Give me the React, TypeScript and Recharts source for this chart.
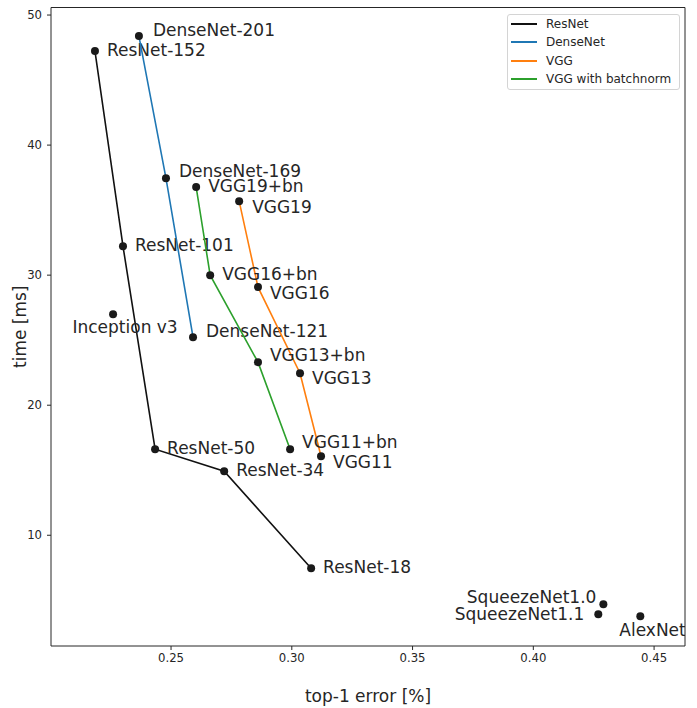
import { ScatterChart, Scatter, XAxis, YAxis, Legend, ReferenceArea } from "recharts";

// top-1 error vs. inference time
const resnetNames = ["ResNet-152", "ResNet-101", "ResNet-50", "ResNet-34", "ResNet-18"];
const resnetError = [0.2185, 0.2301, 0.2434, 0.272, 0.308];
const resnetTime = [47.23, 32.23, 16.62, 14.92, 7.46];

const densenetNames = ["DenseNet-201", "DenseNet-169", "DenseNet-121"];
const densenetError = [0.2367, 0.2479, 0.2591];
const densenetTime = [48.38, 37.46, 25.23];

const vggNames = ["VGG19", "VGG16", "VGG13", "VGG11"];
const vggError = [0.2782, 0.286, 0.3034, 0.3121];
const vggTime = [35.69, 29.08, 22.46, 16.08];

const vggBnNames = ["VGG19+bn", "VGG16+bn", "VGG13+bn", "VGG11+bn"];
const vggBnError = [0.2604, 0.2662, 0.286, 0.2993];
const vggBnTime = [36.77, 30.0, 23.31, 16.62];

const otherNames = ["Inception v3", "SqueezeNet1.0", "SqueezeNet1.1", "AlexNet"];
const otherError = [0.226, 0.429, 0.4269, 0.4443];
const otherTime = [27.0, 4.69, 3.92, 3.77];

const xTicks = [0.25, 0.3, 0.35, 0.4, 0.45];
const yTicks = [10, 20, 30, 40, 50];

const X_DOMAIN: [number, number] = [0.2003, 0.4628];
const Y_DOMAIN: [number, number] = [1.485, 50.58];

const FONT = "'DejaVu Sans', sans-serif";
const INK = "#262626";
const LABEL_SIZE = 17;

const families = [
  { label: "ResNet", color: "#111111" },
  { label: "DenseNet", color: "#1f77b4" },
  { label: "VGG", color: "#ff7f0e" },
  { label: "VGG with batchnorm", color: "#2ca02c" },
];

// where each annotation sits relative to its dot
const labelPlacement: Record<string, { dx: number; dy: number; anchor: "start" | "middle" | "end" }> = {
  "DenseNet-201": { dx: 14, dy: -6, anchor: "start" },
  "DenseNet-169": { dx: 13, dy: -7, anchor: "start" },
  "DenseNet-121": { dx: 13, dy: -6, anchor: "start" },
  "VGG13+bn": { dx: 12, dy: -7, anchor: "start" },
  "VGG11+bn": { dx: 12, dy: -7, anchor: "start" },
  VGG19: { dx: 13, dy: 6, anchor: "start" },
  VGG16: { dx: 12, dy: 6, anchor: "start" },
  VGG13: { dx: 12, dy: 5, anchor: "start" },
  VGG11: { dx: 12, dy: 6, anchor: "start" },
  "Inception v3": { dx: 12, dy: 13, anchor: "middle" },
  "SqueezeNet1.0": { dx: -7, dy: -7, anchor: "end" },
  "SqueezeNet1.1": { dx: -14, dy: 0, anchor: "end" },
  AlexNet: { dx: -21, dy: 14, anchor: "start" },
};

const toPoints = (names: string[], errs: number[], times: number[]) =>
  names.map((name, i) => ({ name, error: errs[i], time: times[i] }));

function ModelDot(props: any) {
  const { cx, cy, payload } = props;
  const p = labelPlacement[payload.name] ?? { dx: 12, dy: -1, anchor: "start" };
  return (
    <g>
      <circle cx={cx} cy={cy} r={4} fill="#1a1a1a" />
      <text
        x={cx + p.dx}
        y={cy + p.dy}
        dominantBaseline="central"
        textAnchor={p.anchor}
        fontSize={LABEL_SIZE}
        fontFamily={FONT}
        fill={INK}
      >
        {payload.name}
      </text>
    </g>
  );
}

function FamilyLegend() {
  return (
    <div
      style={{
        border: "1px solid #d4d4d4",
        borderRadius: 3,
        background: "rgba(255,255,255,0.8)",
        padding: "0 6px 1px 3px",
        fontFamily: FONT,
        fontSize: 12,
        color: INK,
      }}
    >
      {families.map((f) => (
        <div key={f.label} style={{ display: "flex", alignItems: "center", height: 18.3 }}>
          <span
            style={{ display: "block", width: 26, height: 2, background: f.color, marginRight: 9, flexShrink: 0 }}
          />
          <span>{f.label}</span>
        </div>
      ))}
    </div>
  );
}

export default function App() {
  const lineSeries = [
    { key: "resnet", data: toPoints(resnetNames, resnetError, resnetTime), color: families[0].color },
    { key: "densenet", data: toPoints(densenetNames, densenetError, densenetTime), color: families[1].color },
    { key: "vgg", data: toPoints(vggNames, vggError, vggTime), color: families[2].color },
    { key: "vggbn", data: toPoints(vggBnNames, vggBnError, vggBnTime), color: families[3].color },
  ];

  return (
    <div style={{ width: 697, height: 708, background: "#fff" }}>
      <style>{"body{margin:0}"}</style>
      <ScatterChart width={697} height={708} margin={{ top: 7.5, right: 12, bottom: 0, left: 0 }}>
        <XAxis
          type="number"
          dataKey="error"
          domain={X_DOMAIN}
          allowDataOverflow
          ticks={xTicks}
          tickFormatter={(v: number) => v.toFixed(2)}
          height={62}
          tickSize={4}
          tickMargin={4}
          axisLine={false}
          tickLine={{ stroke: INK }}
          tick={{ fontSize: 11.7, fill: INK, fontFamily: FONT }}
          label={{ value: "top-1 error [%]", position: "insideBottom", offset: 6, fontSize: LABEL_SIZE, fill: INK, fontFamily: FONT }}
        />
        <YAxis
          type="number"
          dataKey="time"
          domain={Y_DOMAIN}
          allowDataOverflow
          ticks={yTicks}
          width={51}
          tickSize={4}
          tickMargin={5}
          axisLine={false}
          tickLine={{ stroke: INK }}
          tick={{ fontSize: 11.7, fill: INK, fontFamily: FONT }}
          label={{ value: "time [ms]", angle: -90, position: "center", dx: -6, fontSize: LABEL_SIZE, fill: INK, fontFamily: FONT }}
        />
        <ReferenceArea
          x1={X_DOMAIN[0]}
          x2={X_DOMAIN[1]}
          y1={Y_DOMAIN[0]}
          y2={Y_DOMAIN[1]}
          fill="none"
          stroke={INK}
          strokeWidth={1}
        />
        {lineSeries.map((s) => (
          <Scatter
            key={s.key}
            data={s.data}
            fill="#1a1a1a"
            line={{ stroke: s.color, strokeWidth: 1.6 }}
            shape={ModelDot}
            isAnimationActive={false}
          />
        ))}
        <Scatter
          data={toPoints(otherNames, otherError, otherTime)}
          fill="#1a1a1a"
          shape={ModelDot}
          isAnimationActive={false}
        />
        <Legend
          layout="horizontal"
          verticalAlign="middle"
          content={() => <FamilyLegend />}
          wrapperStyle={{ left: 507, top: 14, width: 173, height: "auto" }}
        />
      </ScatterChart>
    </div>
  );
}
